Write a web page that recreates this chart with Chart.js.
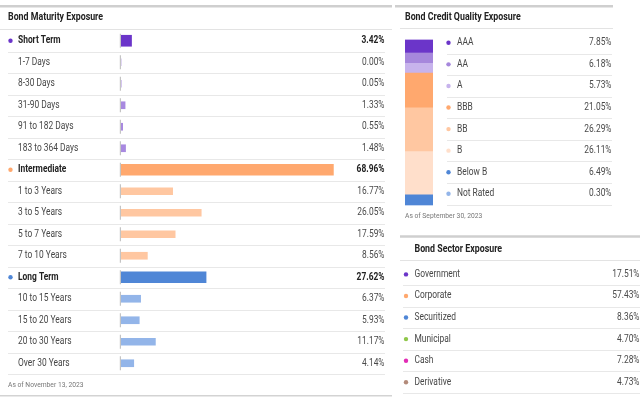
<!DOCTYPE html>
<html><head><meta charset="utf-8">
<script src="https://cdn.jsdelivr.net/npm/chart.js@4.4.0/dist/chart.umd.min.js"></script>
<style>
html,body{margin:0;padding:0;background:#fff;width:640px;height:399px;overflow:hidden}
canvas{position:absolute;left:0;top:0}
</style></head><body>
<canvas id="mat" width="640" height="399"></canvas>
<canvas id="cred" width="640" height="399"></canvas>
<script>
// ---------- DATA ----------
const maturityTitle = 'Bond Maturity Exposure';
const maturityLabels = ['Short Term','1-7 Days','8-30 Days','31-90 Days','91 to 182 Days','183 to 364 Days',
  'Intermediate','1 to 3 Years','3 to 5 Years','5 to 7 Years','7 to 10 Years',
  'Long Term','10 to 15 Years','15 to 20 Years','20 to 30 Years','Over 30 Years'];
const maturityValues = [3.42,0.00,0.05,1.33,0.55,1.48,68.96,16.77,26.05,17.59,8.56,27.62,6.37,5.93,11.17,4.14];
const maturityGroups = ['short','short','short','short','short','short','inter','inter','inter','inter','inter','long','long','long','long','long'];
const maturityIsHeader = [true,false,false,false,false,false,true,false,false,false,false,true,false,false,false,false];
const maturityDate = 'As of November 13, 2023';

const creditTitle = 'Bond Credit Quality Exposure';
const creditLabels = ['AAA','AA','A','BBB','BB','B','Below B','Not Rated'];
const creditValues = [7.85,6.18,5.73,21.05,26.29,26.11,6.49,0.30];
const creditDate = 'As of September 30, 2023';

const sectorTitle = 'Bond Sector Exposure';
const sectorLabels = ['Government','Corporate','Securitized','Municipal','Cash','Derivative'];
const sectorValues = [17.51,57.43,8.36,4.70,7.28,4.73];

// ---------- STYLES ----------
const headColor = {short:'#6b35c9', inter:'#ffa86e', long:'#4f86d6'};
const subColor  = {short:'#a889e0', inter:'#ffc7a1', long:'#93b5e9'};
const creditColors = ['#6b35c9','#a687dc','#c7b3ec','#ffa86e','#ffc7a1','#ffdfcb','#4f86d6','#93b5e9'];
const sectorColors = ['#6b35c9','#ffa86e','#4f86d6','#8fc74a','#e22bb5','#b38b7a'];
const SX = 0.84;
const FONT = 'Roboto, "Noto Sans", sans-serif';
const fmt = v => v.toFixed(2) + '%';

function txt(ctx, s, x, y, font, color, align){
  ctx.save();
  ctx.font = font; ctx.fillStyle = color; ctx.textBaseline = 'middle';
  ctx.textAlign = align || 'left';
  ctx.translate(x, y); ctx.scale(SX, 1);
  ctx.fillText(s, 0, 0);
  ctx.restore();
}
function hline(ctx, x1, x2, y, color, w){
  ctx.save(); ctx.strokeStyle = color; ctx.lineWidth = w || 1;
  ctx.beginPath(); ctx.moveTo(x1, y); ctx.lineTo(x2, y); ctx.stroke(); ctx.restore();
}
function dot(ctx, x, y, color){
  ctx.save(); ctx.fillStyle = color; ctx.beginPath(); ctx.arc(x, y, 2.2, 0, Math.PI*2); ctx.fill(); ctx.restore();
}

// ---------- MATURITY CHART ----------
const matPlugin = {
  id:'matDeco',
  beforeDatasetsDraw(chart){
    const ctx = chart.ctx, ys = chart.scales.y, xs = chart.scales.x;
    const pitch = ys.getPixelForValue(1) - ys.getPixelForValue(0);
    hline(ctx, 0, 392, 6.2, '#cfcfcf', 2.5);
    hline(ctx, 0, 392, 29.5, '#e3e3e3', 1);
    hline(ctx, 0, 392, 395.8, '#d3d3d3', 1.5);
    const x0 = xs.getPixelForValue(0);
    maturityLabels.forEach((l, i) => {
      const yc = ys.getPixelForValue(i);
      hline(ctx, 8, 385, Math.round(yc + pitch/2) + 0.5, '#e8e8e8', 1);
      ctx.save(); ctx.strokeStyle = '#c4c4c4'; ctx.lineWidth = 1.2;
      ctx.beginPath(); ctx.moveTo(x0 - 0.6, yc - 7); ctx.lineTo(x0 - 0.6, yc + 7); ctx.stroke(); ctx.restore();
    });
  },
  afterDraw(chart){
    const ctx = chart.ctx, ys = chart.scales.y;
    txt(ctx, maturityTitle, 8, 17.5, 'bold 10.5px ' + FONT, '#222', 'left');
    maturityLabels.forEach((l, i) => {
      const yc = ys.getPixelForValue(i);
      const h = maturityIsHeader[i];
      if (h) dot(ctx, 10.5, yc, headColor[maturityGroups[i]]);
      txt(ctx, l, 18, yc, (h ? 'bold ' : '') + '10px ' + FONT, h ? '#222' : '#474747', 'left');
      txt(ctx, fmt(maturityValues[i]), 384.5, yc, (h ? 'bold ' : '') + '10px ' + FONT, h ? '#222' : '#4a4a4a', 'right');
    });
    txt(ctx, maturityDate, 8, 384.5, '8px ' + FONT, '#777', 'left');
  }
};

new Chart(document.getElementById('mat'), {
  type:'bar',
  data:{
    labels: maturityLabels,
    datasets:[
      { data: maturityValues.map((v,i)=>maturityIsHeader[i]?v:null),
        backgroundColor: maturityGroups.map(g=>headColor[g]), barThickness:11, grouped:false },
      { data: maturityValues.map((v,i)=>maturityIsHeader[i]?null:v),
        backgroundColor: maturityGroups.map(g=>subColor[g]), barThickness:7, grouped:false }
    ]
  },
  options:{
    indexAxis:'y', responsive:false, animation:false, events:[],
    layout:{padding:{left:121, right:288, top:30, bottom:25}},
    plugins:{legend:{display:false}, tooltip:{enabled:false}},
    scales:{ x:{display:false, min:0, max:75}, y:{display:false} }
  },
  plugins:[matPlugin]
});

// ---------- CREDIT QUALITY + SECTOR ----------
const credPlugin = {
  id:'credDeco',
  afterDraw(chart){
    const ctx = chart.ctx;
    // credit panel
    hline(ctx, 395, 613, 6.2, '#cfcfcf', 2.5);
    txt(ctx, creditTitle, 405, 17.5, 'bold 10.5px ' + FONT, '#222', 'left');
    hline(ctx, 400, 613, 28.5, '#e3e3e3', 1);
    const p = 21.57;
    creditLabels.forEach((l, i) => {
      const yc = 42.8 + i*p;
      dot(ctx, 448.5, yc, creditColors[i]);
      txt(ctx, l, 457, yc, '10px ' + FONT, '#474747', 'left');
      txt(ctx, fmt(creditValues[i]), 611.5, yc, '10px ' + FONT, '#4a4a4a', 'right');
      hline(ctx, 447, 612, Math.round(yc + p/2) + 0.5, '#e8e8e8', 1);
    });
    txt(ctx, creditDate, 405, 215.5, '8px ' + FONT, '#777', 'left');
    // sector panel
    hline(ctx, 400, 640, 236.5, '#cfcfcf', 2.5);
    txt(ctx, sectorTitle, 414.5, 249.3, 'bold 10.5px ' + FONT, '#222', 'left');
    hline(ctx, 400, 640, 260.5, '#e3e3e3', 1);
    sectorLabels.forEach((l, i) => {
      const yc = 274.4 + i*p;
      dot(ctx, 406, yc, sectorColors[i]);
      txt(ctx, l, 414.5, yc, '10px ' + FONT, '#474747', 'left');
      txt(ctx, fmt(sectorValues[i]), 639.5, yc, '10px ' + FONT, '#4a4a4a', 'right');
      hline(ctx, 403, 640, Math.round(yc + p/2) + 0.5, '#e8e8e8', 1);
    });
  }
};

new Chart(document.getElementById('cred'), {
  type:'bar',
  data:{
    labels:[''],
    datasets: creditLabels.map((l,i)=>({
      label:l, data:[creditValues[i]], backgroundColor:creditColors[i],
      stack:'s', barPercentage:1, categoryPercentage:1
    }))
  },
  options:{
    responsive:false, animation:false, events:[],
    layout:{padding:{left:405, right:207, top:39.5, bottom:193.5}},
    plugins:{legend:{display:false}, tooltip:{enabled:false}},
    scales:{
      x:{display:false, stacked:true},
      y:{display:false, stacked:true, min:0, max:100, reverse:true}
    }
  },
  plugins:[credPlugin]
});
</script>
</body></html>
